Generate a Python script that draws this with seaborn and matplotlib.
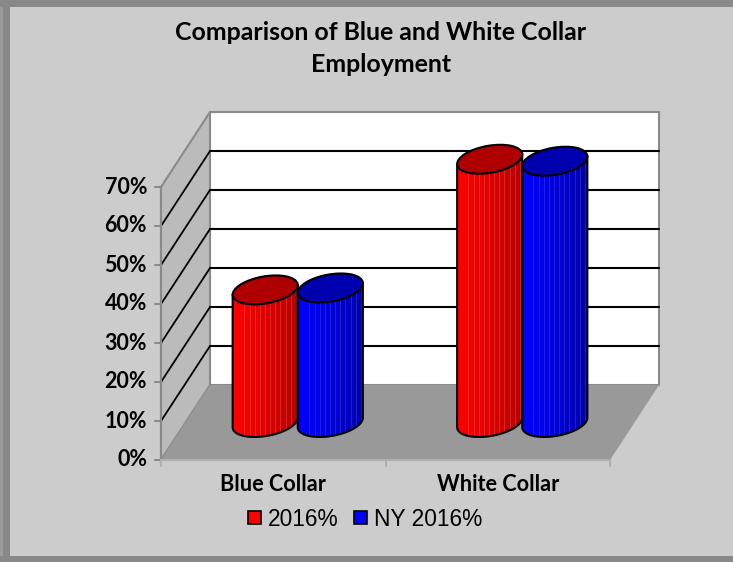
import numpy as np
import pandas as pd
import matplotlib
matplotlib.use("Agg")
import matplotlib.pyplot as plt
from matplotlib.patches import Polygon, Ellipse, Rectangle, Patch
import seaborn as sns

# ---- data -------------------------------------------------------------
categories = ["Blue Collar", "White Collar"]
series_names = ["2016%", "NY 2016%"]
pct_2016 = [34.0, 67.5]
pct_ny_2016 = [34.5, 67.0]
y_ticks = [0, 10, 20, 30, 40, 50, 60, 70]
y_tick_labels = ["0%", "10%", "20%", "30%", "40%", "50%", "60%", "70%"]
title_lines = ["Comparison of Blue and White Collar", "Employment"]

df = pd.DataFrame({
    "category": categories * 2,
    "series": [series_names[0]] * 2 + [series_names[1]] * 2,
    "value": pct_2016 + pct_ny_2016,
})

# ---- styling ------------------------------------------------------------
sns.set_theme(style="white")
plt.rcParams["font.family"] = ["Lato", "DejaVu Sans"]
plt.rcParams["text.color"] = "black"

RED, BLUE = "#FF0000", "#0000FF"
BACKGROUND = "#CCCCCC"
body_shades = {RED: ((1.0, 0.0, 0.0), (0.70, 0.0, 0.0)),
               BLUE: ((0.0, 0.0, 1.0), (0.0, 0.0, 0.66))}
top_shades = {RED: "#AE0000", BLUE: "#0000AE"}

W, H = 733, 562
fig = plt.figure(figsize=(W / 100, H / 100), dpi=100)
fig.patch.set_facecolor(BACKGROUND)
fig.patch.set_linewidth(0)


def box(x0, y0, x1, y1):
    """Pixel box (top-left origin) to figure-fraction rect."""
    return [x0 / W, 1 - y1 / H, (x1 - x0) / W, (y1 - y0) / H]


def pixel_axes(z):
    a = fig.add_axes([0, 0, 1, 1], zorder=z)
    a.set_xlim(0, W)
    a.set_ylim(H, 0)
    a.axis("off")
    return a


bg = pixel_axes(0)
# plot plane placed half way into the 3-D box
bax = fig.add_axes(box(185.5, 149.5, 634.5, 422.5), zorder=1)
fg = pixel_axes(2)

sns.barplot(data=df, x="category", y="value", hue="series",
            palette=[RED, BLUE], width=0.58, gap=0, saturation=1,
            legend=False, ax=bax)
bax.set_xlim(-0.5, 1.5)
bax.set_ylim(y_ticks[0], y_ticks[-1])
bax.axis("off")

DX, DY = 24.5, -37.5   # half depth of the box, in pixels (towards the back)


def to_px(x, v):
    d = bax.transData.transform((x, v))
    return fg.transData.inverted().transform(d)


def P(x, v, depth=0.0):
    px, py = to_px(x, v)
    return (px + depth * DX, py + depth * DY)


X0, X1 = -0.5, 1.5
V0, V1 = y_ticks[0], y_ticks[-1]
EDGE = "#8A8A8A"

# ---- outer border (left, top, bottom) ------------------------------------------
bg.add_patch(Rectangle((0, 0), W, H, fc=BACKGROUND, ec="none", zorder=0))
bg.add_patch(Rectangle((0, 0), 3, H, fc="#9C9C9C", ec="none"))
bg.add_patch(Rectangle((3, 0), 7, H, fc="#888888", ec="none"))
bg.add_patch(Rectangle((0, 0), W, 7, fc="#888888", ec="none"))
bg.add_patch(Rectangle((0, H - 6), W, 6, fc="#888888", ec="none"))

# ---- walls and floor -----------------------------------------------------------
bg.add_patch(Polygon([P(X0, V0, 1), P(X1, V0, 1), P(X1, V1, 1), P(X0, V1, 1)],
                     fc="white", ec=EDGE, lw=1.5, zorder=1))
bg.add_patch(Polygon([P(X0, V0, -1), P(X0, V0, 1), P(X0, V1, 1), P(X0, V1, -1)],
                     fc="#BBBBBB", ec=EDGE, lw=1.5, zorder=1))
bg.add_patch(Polygon([P(X0, V0, -1), P(X0, V0, 1), P(X1, V0, 1), P(X1, V0, -1)],
                     fc="#999999", ec="none", zorder=2))

for v in y_ticks[1:-1]:
    (ax_, ay_), (bx_, by_) = P(X0, v, 1), P(X1, v, 1)
    bg.plot([ax_, bx_], [ay_, by_], color="black", lw=1.5, zorder=3)
    (ax_, ay_), (bx_, by_) = P(X0, v, -1), P(X0, v, 1)
    bg.plot([ax_, bx_], [ay_, by_], color="black", lw=1.3, zorder=3)

# ---- front axes -------------------------------------------------------------
(fx0, fy0), (fx1, fy1) = P(X0, V0, -1), P(X0, V1, -1)
bg.plot([fx0, fx1], [fy0, fy1], color=EDGE, lw=1.5, zorder=4)
for v, lab in zip(y_ticks, y_tick_labels):
    x, y = P(X0, v, -1)
    bg.plot([x - 6, x], [y, y], color=EDGE, lw=1.5, zorder=4)
    bg.text(x - 14, y, lab, ha="right", va="center", fontsize=15.5,
            fontweight="bold", color="black", zorder=5)

(bx0, by0), (bx1, by1) = P(X0, V0, -1), P(X1, V0, -1)
bg.plot([bx0, bx1], [by0, by1], color="#B0B0B0", lw=1.5, zorder=4)
for xc in [X0, 0.5, X1]:
    x, y = P(xc, V0, -1)
    bg.plot([x, x], [y, y + 6], color="#B0B0B0", lw=1.5, zorder=4)
for i, cat in enumerate(categories):
    x, y = P(i, V0, -1)
    bg.text(x, y + 31, cat, ha="center", va="baseline", fontsize=15.6,
            fontweight="bold", color="black", zorder=5)

# ---- title -------------------------------------------------------------------
bg.text(381, 39.5, title_lines[0], ha="center", va="baseline", fontsize=17.9,
        fontweight="bold", color="black")
bg.text(381, 72.5, title_lines[1], ha="center", va="baseline", fontsize=17.9,
        fontweight="bold", color="black")

# ---- cylinders built on the seaborn bars ----------------------------------------
PHI = np.deg2rad(-10.0)
B_SEMI = 13.5
tt = np.linspace(0, 2 * np.pi, 721)[:-1]


def ellipse_pts(cx, cy, a, b):
    ex = a * np.cos(tt) * np.cos(PHI) - b * np.sin(tt) * np.sin(PHI)
    ey = a * np.cos(tt) * np.sin(PHI) + b * np.sin(tt) * np.cos(PHI)
    return cx + ex, cy + ey


bars = sorted(bax.patches, key=lambda p: p.get_x())
for k, p in enumerate(bars):
    p.set_visible(False)
    x0, w, h = p.get_x(), p.get_width(), p.get_height()
    face = matplotlib.colors.to_hex(p.get_facecolor(), keep_alpha=False).upper()
    left, base = to_px(x0, 0)
    right, _ = to_px(x0 + w, 0)
    _, top = to_px(x0 + w / 2, h)
    cx = (left + right) / 2
    hx = (right - left) / 2
    a = np.sqrt((hx ** 2 - (B_SEMI * np.sin(PHI)) ** 2) / np.cos(PHI) ** 2)

    # silhouette: lower arc of the base ellipse joined to the top ellipse extremes
    ex, ey = ellipse_pts(cx, base, a, B_SEMI)
    i_min, i_max, i_low = np.argmin(ex), np.argmax(ex), np.argmax(ey)
    n = len(tt)
    fwd = [(i_max + j) % n for j in range((i_min - i_max) % n + 1)]
    if i_low in fwd:
        arc = fwd
    else:
        arc = [(i_min + j) % n for j in range((i_max - i_min) % n + 1)][::-1]
    arc_pts = list(zip(ex[arc], ey[arc]))
    if arc_pts[0][0] > arc_pts[-1][0]:
        arc_pts = arc_pts[::-1]
    tx, ty = ellipse_pts(cx, top, a, B_SEMI)
    body = arc_pts + [(tx[i_max], ty[i_max]), (tx[i_min], ty[i_min])]

    z = 10 + 3 * k
    c_left, c_right = body_shades[face]
    ncol = 66
    s = np.linspace(0, 1, ncol) ** 1.2
    img = np.outer(1 - s, c_left) + np.outer(s, c_right)
    stripes = (np.arange(ncol) % 5 == 2) & (np.arange(ncol) > 8)
    tint = np.array([1.0, 0.75, 0.75] if face == RED else [0.6, 0.6, 1.0])
    img[stripes] = img[stripes] * 0.8 + 0.2 * tint
    clip = Polygon(body, closed=True, transform=fg.transData)
    im = fg.imshow(img[None, :, :],
                   extent=(cx - hx - 1, cx + hx + 1, base + B_SEMI + 3, top - B_SEMI - 3),
                   aspect="auto", interpolation="nearest", zorder=z)
    im.set_clip_path(clip)
    fg.add_patch(Polygon(body, closed=True, fill=False, ec="black", lw=1.5, zorder=z + 0.5))
    fg.add_patch(Ellipse((cx, top), 2 * a, 2 * B_SEMI, angle=np.rad2deg(PHI),
                         fc=top_shades[face], ec="black", lw=1.5, zorder=z + 1))

fg.set_xlim(0, W)
fg.set_ylim(H, 0)

# ---- legend -------------------------------------------------------------------
handles = [Patch(fc=c, ec="black", lw=1.2) for c in (RED, BLUE)]
fig.legend(handles, series_names, loc="center", bbox_to_anchor=(365 / W, 1 - 519 / H),
           ncol=2, frameon=False, prop={"family": ["Liberation Sans"], "size": 16.4},
           labelcolor="black",
           handlelength=0.57, handleheight=0.55, handletextpad=0.3,
           columnspacing=0.66, borderpad=0, borderaxespad=0)

fig.savefig("out.png", dpi=100, facecolor=fig.get_facecolor(), edgecolor="none")
